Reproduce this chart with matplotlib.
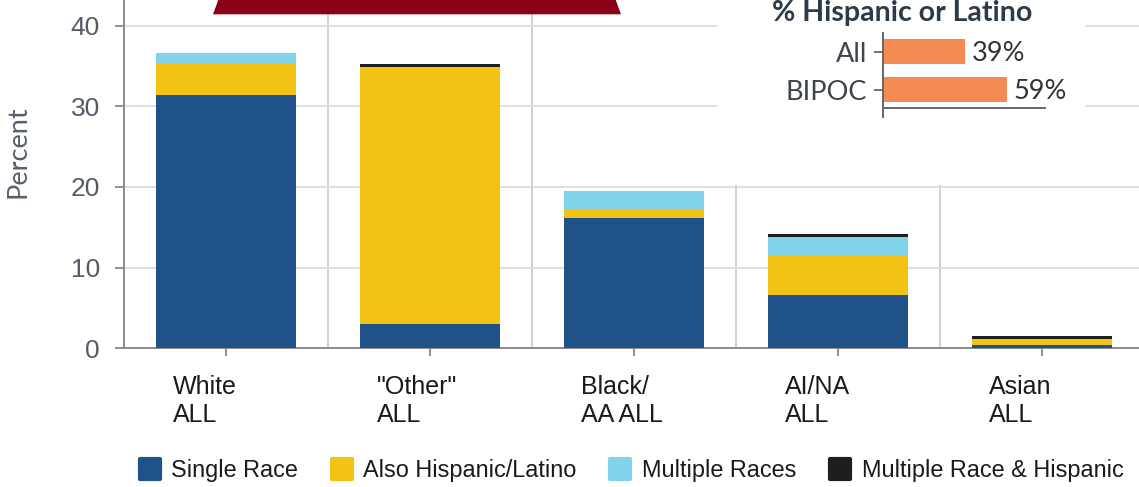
import matplotlib
matplotlib.use("Agg")
import matplotlib.pyplot as plt
from matplotlib.lines import Line2D
from matplotlib.markers import MarkerStyle
from matplotlib.patches import Rectangle, Polygon
import matplotlib.transforms as mtransforms
import numpy as np

# ---------------- data ----------------
categories = ['White\nALL', '"Other"\nALL', 'Black/\nAA ALL', 'AI/NA\nALL', 'Asian\nALL']
single_race = [31.4, 3.0, 16.2, 6.6, 0.4]
also_hispanic = [3.8, 31.85, 1.0, 4.9, 0.6]
multiple_races = [1.4, 0.0, 2.3, 2.25, 0.15]
multiple_hispanic = [0.0, 0.35, 0.0, 0.45, 0.35]
series_names = ['Single Race', 'Also Hispanic/Latino', 'Multiple Races', 'Multiple Race & Hispanic']
series_colors = ['#1f5289', '#f2c314', '#80d3ea', '#1e1e1e']
y_ticks = [0, 10, 20, 30, 40]

inset_labels = ['All', 'BIPOC']
inset_values = [39, 59]
inset_title = '% Hispanic or Latino'

W, H = 1139, 487
fig = plt.figure(figsize=(W / 100, H / 100), dpi=100)

def fx(px):
    return px / W

def fy(py):
    return 1 - py / H

# ---------------- main axes ----------------
left_px, base_px = 123.5, 348.3
unit_w = 204.2
ax = fig.add_axes([fx(left_px), fy(base_px), 5 * unit_w / W, base_px / H])
ax.set_xlim(-0.5, 4.5)
ax.set_ylim(0, base_px / 8.07)

x = np.arange(len(categories))
bottom = np.zeros(len(categories))
for vals, col in zip([single_race, also_hispanic, multiple_races, multiple_hispanic], series_colors):
    ax.bar(x, vals, width=0.686, bottom=bottom, color=col, linewidth=0, zorder=3)
    bottom += np.array(vals)

ax.set_axisbelow(True)
ax.set_yticks(y_ticks)
ax.set_xticks(x)
ax.set_xticks(x[:-1] + 0.5, minor=True)
ax.grid(axis='y', which='major', color='#dcdcdc', linewidth=1.3)
ax.grid(axis='x', which='minor', color='#cdcdcd', linewidth=1.3)
ax.grid(axis='x', which='major', visible=False)
ax.tick_params(axis='x', which='minor', length=0)

for s in ['top', 'right']:
    ax.spines[s].set_visible(False)
for s in ['left', 'bottom']:
    ax.spines[s].set_color('#8a8a8a')
    ax.spines[s].set_linewidth(1.4)

ax.tick_params(axis='y', which='major', length=6.5, width=1.3, color='#8a8a8a',
               pad=10.5, labelsize=19, labelcolor='#525c69')
for lab in ax.get_yticklabels():
    lab.set_fontfamily('Liberation Sans')

ax.tick_params(axis='x', which='major', length=6, width=1.3, color='#8a8a8a',
               pad=13.5, labelsize=18, labelcolor='#1a1a1a')
ax.set_xticklabels(categories, ha='left', linespacing=1.2)
offset = mtransforms.ScaledTranslation(-53 / 100, 0, fig.dpi_scale_trans)
for lab in ax.get_xticklabels():
    lab.set_fontfamily('Liberation Sans')
    lab.set_transform(lab.get_transform() + offset)

fig.text(fx(18), fy(152), 'Percent', rotation=90, ha='center', va='center',
         fontsize=19.5, family='Lato', color='#56606d')

# ---------------- legend ----------------
handles = [Line2D([], [], ls='none', marker=MarkerStyle('s', joinstyle='round'),
                  markersize=14.5, markeredgewidth=3, color=c, markeredgecolor=c)
           for c in series_colors]
leg = fig.legend(handles, series_names, loc='center left',
                 bbox_to_anchor=(fx(138), fy(471)), ncol=4, frameon=False,
                 borderpad=0, borderaxespad=0, handlelength=1.0, handletextpad=0.42,
                 columnspacing=1.36, prop={'family': 'Liberation Sans', 'size': 16.9})
for t in leg.get_texts():
    t.set_color('#1a1a1a')

# ---------------- decorations ----------------
fig.patches.append(Rectangle((fx(717), fy(185)), fx(1085) - fx(717), fy(0) - fy(185),
                             transform=fig.transFigure, facecolor='white',
                             edgecolor='none', zorder=1))
fig.patches.append(Polygon([(fx(213), fy(14.3)), (fx(621), fy(14.3)),
                            (fx(615), fy(-2)), (fx(219), fy(-2))],
                           closed=True, transform=fig.transFigure,
                           facecolor='#8a0017', edgecolor='none', zorder=1))

# ---------------- inset ----------------
ins = fig.add_axes([fx(883), fy(117), (1045 - 883) / W, (117 - 33) / H])
ins.set_zorder(2)
ins.patch.set_alpha(0)
ins.set_xlim(0, 162 / 2.1)
ins.set_ylim(1 + 27.5 / 38, -18.5 / 38)
yy = np.arange(len(inset_labels))
ins.barh(yy, inset_values, height=0.66, color='#f38b53', linewidth=0)
for yi, v in zip(yy, inset_values):
    ins.annotate(f'{v}%', (v, yi), xytext=(5, -1.5), textcoords='offset points',
                 ha='left', va='center', fontsize=19.5, family='Lato', color='#333333')
ins.set_yticks(yy)
ins.set_yticklabels(inset_labels, family='Lato', fontsize=19.5, color='#3d4450')
ins.tick_params(axis='y', length=6.5, width=1.3, color='#666666', pad=5)
ins.set_xticks([])
ins.spines['top'].set_visible(False)
ins.spines['right'].set_visible(False)
ins.spines['left'].set_color('#666666')
ins.spines['left'].set_linewidth(1.4)
ins.spines['bottom'].set_color('#666666')
ins.spines['bottom'].set_linewidth(1.4)
ins.spines['bottom'].set_position(('data', 1 + 18.5 / 38))

fig.text(fx(902), fy(20.5), inset_title, ha='center', va='baseline',
         fontsize=20.5, family='Lato', fontweight='bold', color='#2d3a4a', zorder=3)

fig.savefig('out.png', dpi=100)
